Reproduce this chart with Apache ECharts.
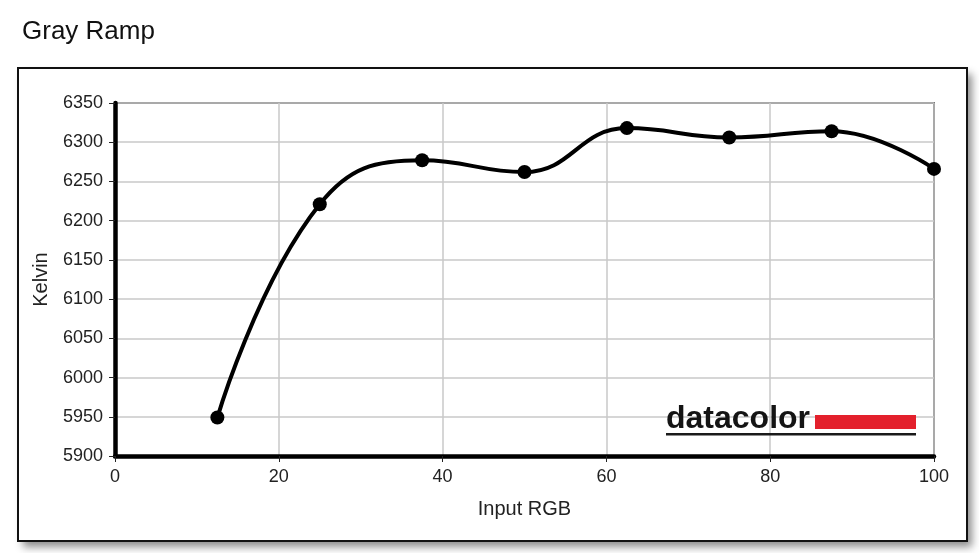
<!DOCTYPE html>
<html>
<head>
<meta charset="utf-8">
<script src="https://cdn.jsdelivr.net/npm/echarts@6/dist/echarts.min.js"></script>
<style>
  html, body { margin: 0; padding: 0; background: #ffffff; }
  #chart { width: 979px; height: 553px; }
</style>
</head>
<body>
<div id="chart"></div>
<script>
// ---- data ----
const inputRGB = [12.5, 25, 37.5, 50, 62.5, 75, 87.5, 100];
const kelvin   = [5949, 6221, 6277, 6262, 6318, 6306, 6314, 6266];
const xTicks = { min: 0, max: 100, interval: 20 };
const yTicks = { min: 5900, max: 6350, interval: 50 };
const titleText = 'Gray Ramp';
const xName = 'Input RGB';
const yName = 'Kelvin';

const points = inputRGB.map((x, i) => [x, kelvin[i]]);
const FONT = '"Liberation Sans", Arial, sans-serif';

const chart = echarts.init(document.getElementById('chart'), null, { renderer: 'canvas' });
chart.setOption({
  backgroundColor: '#ffffff',
  animation: false,
  title: {
    text: titleText, left: 17, top: 14,
    textStyle: { fontFamily: FONT, fontSize: 26, fontWeight: 'normal', color: '#111' }
  },
  grid: {
    left: 115, right: 45, top: 103, bottom: 97,
    show: true, borderColor: '#111', borderWidth: 1.5, backgroundColor: 'transparent'
  },
  graphic: [
    {
      type: 'rect', z: -100,
      shape: { x: 18, y: 68, width: 949, height: 473 },
      style: {
        fill: '#ffffff',
        shadowBlur: 8, shadowOffsetX: 5, shadowOffsetY: 6, shadowColor: 'rgba(0,0,0,0.45)'
      }
    },
    {
      type: 'rect', z: -99,
      shape: { x: 18, y: 68, width: 949, height: 473 },
      style: { fill: 'none', stroke: '#111', lineWidth: 2 }
    },
    {
      type: 'text', z: 5,
      x: 666, y: 435,
      style: {
        text: 'datacolor', font: 'bold 32px "Liberation Sans", Arial, sans-serif',
        fill: '#141414', textVerticalAlign: 'bottom'
      }
    },
    {
      type: 'rect', z: 5,
      shape: { x: 815, y: 415, width: 101, height: 14 },
      style: { fill: '#e3202c' }
    },
    {
      type: 'rect', z: 5,
      shape: { x: 666, y: 433, width: 250, height: 2.5 },
      style: { fill: '#1a1a1a' }
    }
  ],
  xAxis: {
    type: 'value', min: xTicks.min, max: xTicks.max, interval: xTicks.interval,
    name: xName, nameLocation: 'middle', nameGap: 43,
    nameTextStyle: { fontFamily: FONT, fontSize: 20, color: '#222' },
    axisLine: { show: true, onZero: false, lineStyle: { color: '#000', width: 4.5 } },
    axisTick: { show: true, inside: false, length: 6, lineStyle: { color: '#222', width: 1 } },
    axisLabel: { fontFamily: FONT, fontSize: 18, color: '#222', margin: 12,
                 formatter: v => String(v) },
    splitLine: { show: true, lineStyle: { color: '#c8c8c8', width: 1.5 } }
  },
  yAxis: {
    type: 'value', min: yTicks.min, max: yTicks.max, interval: yTicks.interval,
    name: yName, nameLocation: 'middle', nameGap: 64,
    nameTextStyle: { fontFamily: FONT, fontSize: 20, color: '#222' },
    axisLine: { show: true, onZero: false, lineStyle: { color: '#000', width: 4.5 } },
    axisTick: { show: true, inside: false, length: 6, lineStyle: { color: '#222', width: 1 } },
    axisLabel: { fontFamily: FONT, fontSize: 18, color: '#222', margin: 12,
                 formatter: v => String(v) },
    splitLine: { show: true, lineStyle: { color: '#c8c8c8', width: 1.5 } }
  },
  series: [{
    type: 'line',
    data: points,
    smooth: 0.45,
    symbol: 'circle', symbolSize: 14,
    lineStyle: { color: '#000', width: 4 },
    itemStyle: { color: '#000' },
    z: 3
  }]
});
</script>
</body>
</html>
